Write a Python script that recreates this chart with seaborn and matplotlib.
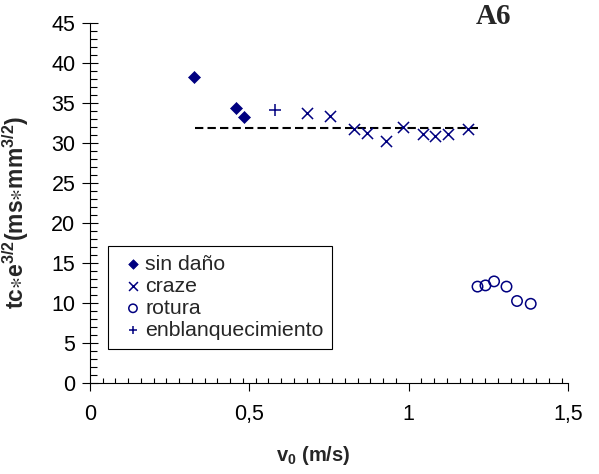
import matplotlib
matplotlib.use("Agg")
import matplotlib.pyplot as plt
from matplotlib.ticker import MultipleLocator, FixedLocator, FixedFormatter
import seaborn as sns

# Impact data: contact time scaled by thickness vs. impact velocity
sin_dano_v = [0.326, 0.457, 0.484]
sin_dano_t = [38.2, 34.4, 33.3]

craze_v = [0.680, 0.753, 0.828, 0.869, 0.928, 0.981, 1.044, 1.084, 1.123, 1.187]
craze_t = [33.7, 33.4, 31.8, 31.3, 30.25, 32.0, 31.1, 30.9, 31.1, 31.75]

rotura_v = [1.216, 1.241, 1.268, 1.307, 1.340, 1.383]
rotura_t = [12.05, 12.2, 12.7, 12.05, 10.25, 9.9]

blanq_v = [0.580]
blanq_t = [34.1]

# Mean level drawn as a dashed reference line
mean_v = [0.33, 1.218]
mean_t = [31.9, 31.9]

x_ticks = [0, 0.5, 1, 1.5]
x_tick_labels = ["0", "0,5", "1", "1,5"]
y_ticks = [0, 5, 10, 15, 20, 25, 30, 35, 40, 45]

sns.set_style("ticks")
plt.rcParams["font.family"] = ["Liberation Sans", "DejaVu Sans"]
plt.rcParams["mathtext.default"] = "regular"
plt.rcParams["mathtext.fontset"] = "custom"
plt.rcParams["mathtext.rm"] = "Liberation Sans:bold"
plt.rcParams["mathtext.it"] = "Liberation Sans:bold"
plt.rcParams["mathtext.bf"] = "Liberation Sans:bold"

NAVY = "#000080"

fig = plt.figure(figsize=(5.99, 4.74), dpi=100)
ax = fig.add_axes([90 / 599, 1 - 383 / 474, 478 / 599, 360 / 474])

sns.lineplot(x=mean_v, y=mean_t, ax=ax, color="black", lw=1.5,
             dashes=False, linestyle=(0, (4, 2)), legend=False, zorder=1)

sns.scatterplot(x=sin_dano_v, y=sin_dano_t, ax=ax, marker="D", s=6.1 ** 2,
                color=NAVY, edgecolor=NAVY, linewidth=0.5, label="sin daño", zorder=3)
sns.scatterplot(x=craze_v, y=craze_t, ax=ax, marker="x", s=8 ** 2,
                color=NAVY, linewidth=1.1, label="craze", zorder=3)
sns.scatterplot(x=rotura_v, y=rotura_t, ax=ax, marker="o", s=7.5 ** 2,
                facecolor="none", edgecolor=NAVY, linewidth=1.1, label="rotura", zorder=3)
sns.scatterplot(x=blanq_v, y=blanq_t, ax=ax, marker="+", s=8 ** 2,
                color=NAVY, linewidth=1.1, label="enblanquecimiento", zorder=3)

ax.set_xlim(0, 1.5)
ax.set_ylim(0, 45)

for side in ("top", "right"):
    ax.spines[side].set_visible(False)
for side in ("left", "bottom"):
    ax.spines[side].set_linewidth(0.8)
    ax.spines[side].set_color("black")

ax.xaxis.set_major_locator(FixedLocator(x_ticks))
ax.xaxis.set_major_formatter(FixedFormatter(x_tick_labels))
ax.xaxis.set_minor_locator(MultipleLocator(0.04))
ax.yaxis.set_major_locator(FixedLocator(y_ticks))
ax.yaxis.set_minor_locator(MultipleLocator(1))

ax.tick_params(axis="y", which="major", direction="inout", length=11, width=0.8,
               labelsize=15.5, pad=5, colors="black")
ax.tick_params(axis="y", which="minor", direction="in", length=5, width=0.8, colors="black")
ax.tick_params(axis="x", which="major", direction="out", length=6, width=0.8,
               labelsize=15.5, pad=9, colors="black")
ax.tick_params(axis="x", which="minor", direction="in", length=3.5, width=0.8, colors="black")

ax.set_xlabel(r"v$_0$ (m/s)", fontsize=14.5, fontweight="bold")
ax.xaxis.set_label_coords((313 - 90) / 478, -(444 - 383) / 360)
ax.set_ylabel(r"tc$\ast$e$^{3/2}$(ms$\ast$mm$^{3/2}$)", fontsize=16.5, fontweight="bold")
ax.yaxis.set_label_coords((31 - 90) / 478, (383 - 212) / 360)

fig.text(493 / 599, 1 - 16 / 474, "A6", fontsize=21, fontweight="bold",
         family=["Liberation Serif", "DejaVu Serif"], ha="center", va="center")

leg = ax.legend(loc="upper left", bbox_to_anchor=((108 - 90) / 478, (383 - 246) / 360),
                frameon=True, fancybox=False, shadow=False, fontsize=15.3,
                borderpad=0.4, labelspacing=0.15, handlelength=1.55,
                handletextpad=-0.2, borderaxespad=0, markerscale=0.8)
leg.get_frame().set_edgecolor("black")
leg.get_frame().set_linewidth(0.8)
leg.get_frame().set_alpha(1)

fig.savefig("out.png", dpi=100)
